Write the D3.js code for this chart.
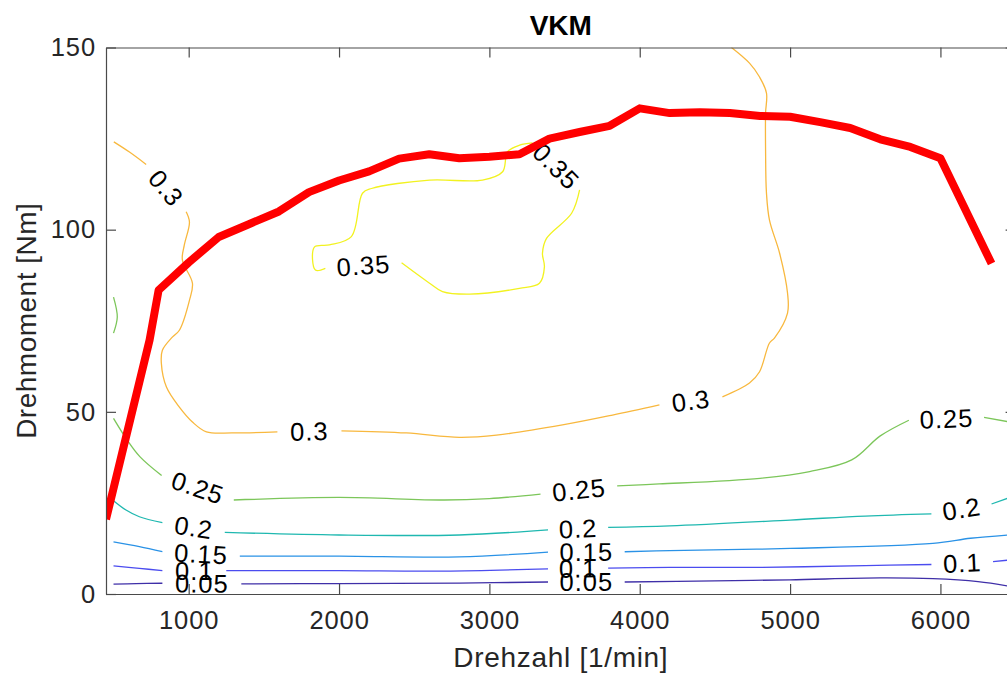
<!DOCTYPE html>
<html>
<head>
<meta charset="utf-8">
<script src="https://cdn.jsdelivr.net/npm/d3@7"></script>
<style>
  html, body { margin: 0; padding: 0; background: #fff; }
  svg { display: block; font-family: "Liberation Sans", Arial, Helvetica, sans-serif; }
</style>
</head>
<body>
<svg id="chart" width="1007" height="675"></svg>
<script>
// ---------------- data ----------------
const title = "VKM";
const xLabel = "Drehzahl [1/min]";
const yLabel = "Drehmoment [Nm]";
const xTicks = [1000, 2000, 3000, 4000, 5000, 6000];
const yTicks = [0, 50, 100, 150];
const xDomain = [450, 6500];
const yDomain = [0, 150];

// full-load curve [rpm, Nm]
const fullLoad = [
  [450, 20.5], [740, 69.7], [800, 83.4], [1000, 91], [1200, 98], [1400, 101.5],
  [1600, 105], [1800, 110.3], [2000, 113.5], [2200, 116], [2400, 119.5],
  [2600, 120.7], [2800, 119.6], [3000, 120], [3200, 120.7], [3400, 125],
  [3600, 126.8], [3800, 128.5], [4000, 133.3], [4200, 132], [4400, 132.2],
  [4600, 132], [4800, 131.2], [5000, 131], [5200, 129.5], [5400, 127.9],
  [5600, 124.8], [5800, 122.7], [6000, 119.6], [6340, 90.7]
];

// contour levels and their pieces [rpm, Nm]
const levels = [0.05, 0.1, 0.15, 0.2, 0.25, 0.3, 0.35];
const levelColors = ["#3f2fa8", "#4b4cef", "#2a92e6", "#1fb8b0", "#7cc65a", "#f8b83e", "#f2f220"];

const c005 = [
  [[500, 2.7], [650, 2.85], [825, 2.95]],
  [[1350, 2.8], [2000, 2.85], [2800, 3.0], [3390, 3.3]],
  [[3900, 3.3], [4500, 3.6], [5000, 3.9], [5600, 4.4], [5950, 4.2], [6250, 3.4], [6450, 2.2]]
];
const c010 = [
  [[500, 7.7], [672, 7.05], [825, 6.4]],
  [[1250, 6.4], [2000, 6.4], [2700, 6.3], [3390, 6.9]],
  [[3790, 7.1], [4200, 7.3], [4800, 7.3], [5500, 7.8], [5940, 8.1]],
  [[6350, 8.9], [6450, 9.3]]
];
const c015 = [
  [[500, 14.3], [672, 13.0], [825, 11.6]],
  [[1340, 10.4], [2000, 10.4], [2800, 10.2], [3390, 11.5]],
  [[3900, 11.6], [4200, 11.9], [5000, 12.5], [5950, 13.9], [6200, 15.3], [6450, 16.2]]
];
const c020 = [
  [[500, 25.6], [583, 23.05], [672, 21.2], [825, 19.6]],
  [[1240, 16.9], [2000, 16.2], [2800, 16.2], [3390, 17.6]],
  [[3790, 18.3], [4200, 18.7], [5000, 20.3], [5500, 21.4], [5940, 22]],
  [[6340, 24.7], [6450, 26.3]]
];
const c025 = [
  [[500, 48.2], [590, 42.3], [675, 37.7], [820, 32.5]],
  [[1300, 25.8], [2000, 26.5], [2700, 25.8], [3000, 26.2], [3340, 27.4]],
  [[3850, 29.7], [4130, 30.2], [4800, 31.75], [5130, 33.6], [5410, 36.8], [5600, 43.4], [5790, 47.7]],
  [[6290, 48.5], [6450, 47.3]],
  [[500, 81.5], [525, 76], [500, 71.6]]
];
const c030 = [
  [[502, 124.1], [606, 121.3], [717, 117.9]],
  [[983, 104.9], [1005, 102.1], [971, 95.8], [958, 91.7], [1025, 85.3], [1005, 80.6],
   [938, 72.4], [891, 70.5], [825, 66.9], [818, 63.4], [852, 56.8], [938, 51.3],
   [1025, 47.2], [1118, 44.5], [1291, 44.2], [1590, 44.5]],
  [[2016, 44.8], [2448, 44.2], [2801, 43.0], [3047, 43.6], [3486, 46.4], [3819, 49.1], [4131, 51.9]],
  [[4550, 54.1], [4730, 57.9], [4797, 61.0], [4863, 68.9], [4897, 70.3], [4983, 77.1],
   [4983, 82.6], [4930, 93.6], [4863, 102.6], [4843, 110.0], [4837, 121.8], [4837, 132.0],
   [4843, 137.5], [4797, 141.9], [4730, 145.7], [4610, 150]]
];
const c035 = [
  [[1909, 89.4], [1843, 88.9], [1836, 95.2], [1936, 95.8], [2082, 98.1], [2156, 110.0],
   [2216, 111.3], [2602, 113.6], [2954, 113.6], [3088, 115.9], [3121, 121.4],
   [3201, 123.2], [3287, 123.8]],
  [[3600, 110.9], [3547, 104.5], [3380, 97.6], [3353, 93.5], [3366, 89.8], [3333, 85.3],
   [3200, 83.9], [2868, 82.3], [2688, 83.0], [2602, 85.3], [2416, 90.9]]
];
const contourPieces = [c005, c010, c015, c020, c025, c030, c035];

// label gaps: [level index, piece ending before the label, piece starting after it]
const labelGaps = [
  [0, 0, 1], [0, 1, 2],
  [1, 0, 1], [1, 1, 2], [1, 2, 3],
  [2, 0, 1], [2, 1, 2],
  [3, 0, 1], [3, 1, 2], [3, 2, 3],
  [4, 0, 1], [4, 1, 2], [4, 2, 3],
  [5, 0, 1], [5, 1, 2], [5, 2, 3],
  [6, 0, 1], [6, 1, 0]
];

// ---------------- layout ----------------
const svg = d3.select("#chart");
const pLeft = 106, pTop = 47.5, pBottom = 594, pRight = 1015.6;
const x = d3.scaleLinear().domain(xDomain).range([pLeft, pRight]);
const y = d3.scaleLinear().domain(yDomain).range([pBottom, pTop]);
const axisColor = "#4a4a4a";
const textColor = "#262626";

svg.append("defs").append("clipPath").attr("id", "plotClip")
  .append("rect").attr("x", pLeft).attr("y", pTop)
  .attr("width", pRight - pLeft).attr("height", pBottom - pTop);

const plot = svg.append("g").attr("clip-path", "url(#plotClip)");

// contours
const contourLine = d3.line()
  .x(d => x(d[0])).y(d => y(d[1]))
  .curve(d3.curveCatmullRom.alpha(0.5));

contourPieces.forEach((pieces, li) => {
  plot.append("g")
    .selectAll("path")
    .data(pieces)
    .join("path")
    .attr("d", contourLine)
    .attr("fill", "none")
    .attr("stroke", levelColors[li])
    .attr("stroke-width", 1.3)
    .attr("stroke-linejoin", "round");
});

// contour labels placed in the gaps
const labelData = labelGaps.map(([li, a, b]) => {
  const pa = contourPieces[li][a], pb = contourPieces[li][b];
  const p1 = pa[pa.length - 1], p2 = pb[0];
  const x1 = x(p1[0]), y1 = y(p1[1]), x2 = x(p2[0]), y2 = y(p2[1]);
  let ang = Math.atan2(y2 - y1, x2 - x1) * 180 / Math.PI;
  if (ang > 90) ang -= 180;
  if (ang < -90) ang += 180;
  return { text: String(levels[li]), cx: (x1 + x2) / 2, cy: (y1 + y2) / 2, ang };
});

plot.append("g")
  .selectAll("text")
  .data(labelData)
  .join("text")
  .attr("transform", d => `translate(${d.cx},${d.cy}) rotate(${d.ang})`)
  .attr("text-anchor", "middle")
  .attr("dominant-baseline", "central")
  .attr("font-size", 25.5)
  .attr("letter-spacing", 1)
  .attr("fill", "#000")
  .text(d => d.text);

// full-load curve
plot.append("path")
  .datum(fullLoad)
  .attr("d", d3.line().x(d => x(d[0])).y(d => y(d[1])))
  .attr("fill", "none")
  .attr("stroke", "#ff0000")
  .attr("stroke-width", 8)
  .attr("stroke-linejoin", "round")
  .attr("stroke-linecap", "butt");

// axes
function styleAxis(g) {
  g.select(".domain").attr("stroke", axisColor).attr("stroke-width", 1.2).attr("fill", "none");
  g.selectAll(".tick line").attr("stroke", axisColor).attr("stroke-width", 1.2);
  g.selectAll(".tick text").attr("fill", textColor).attr("font-size", 25.5)
    .attr("letter-spacing", 0.9)
    .attr("font-family", "Liberation Sans, Arial, Helvetica, sans-serif");
}

svg.append("g").attr("transform", `translate(0,${pBottom})`)
  .call(d3.axisBottom(x).tickValues(xTicks).tickSizeInner(-10).tickSizeOuter(0).tickPadding(17).tickFormat(d3.format("d")))
  .call(styleAxis);
svg.append("g").attr("transform", `translate(0,${pTop})`)
  .call(d3.axisTop(x).tickValues(xTicks).tickSizeInner(-10).tickSizeOuter(0).tickFormat(""))
  .call(styleAxis);
svg.append("g").attr("transform", `translate(${pLeft},0)`)
  .call(d3.axisLeft(y).tickValues(yTicks).tickSizeInner(-10).tickSizeOuter(0).tickPadding(10).tickFormat(d3.format("d")))
  .call(styleAxis);
svg.append("g").attr("transform", `translate(${pRight},0)`)
  .call(d3.axisRight(y).tickValues(yTicks).tickSizeInner(-10).tickSizeOuter(0).tickFormat(""))
  .call(styleAxis);

// titles
svg.append("text")
  .attr("x", (pLeft + pRight) / 2).attr("y", 35)
  .attr("text-anchor", "middle")
  .attr("font-size", 28).attr("font-weight", "bold").attr("fill", "#000")
  .text(title);

svg.append("text")
  .attr("x", (pLeft + pRight) / 2).attr("y", 667)
  .attr("text-anchor", "middle")
  .attr("font-size", 28).attr("letter-spacing", 0.7).attr("fill", textColor)
  .text(xLabel);

svg.append("text")
  .attr("transform", `translate(36,${(pTop + pBottom) / 2}) rotate(-90)`)
  .attr("text-anchor", "middle")
  .attr("font-size", 28).attr("letter-spacing", 0.5).attr("fill", textColor)
  .text(yLabel);
</script>
</body>
</html>
